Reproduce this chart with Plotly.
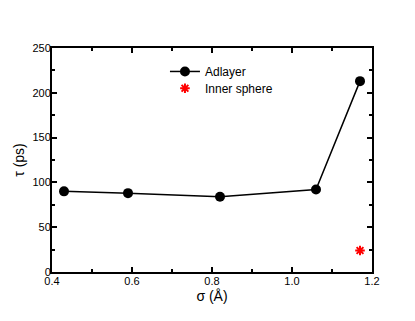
import plotly.graph_objects as go

sigma = [0.43, 0.59, 0.82, 1.06, 1.17]
tau_adlayer = [90, 88, 84, 92, 213]
sigma_inner = [1.17]
tau_inner = [24]

fig = go.Figure()
fig.add_trace(go.Scatter(x=sigma, y=tau_adlayer, mode="lines+markers", name="Adlayer",
                         line=dict(color="black", width=1.5),
                         marker=dict(color="black", size=10, symbol="circle"),
                         legend="legend", showlegend=True))
fig.add_trace(go.Scatter(x=sigma_inner, y=tau_inner, mode="markers", name="Inner sphere",
                         marker=dict(color="red", size=8, symbol="asterisk-open",
                                     line=dict(color="red", width=2)),
                         legend="legend2", showlegend=True))

axis_common = dict(showline=True, linecolor="black", linewidth=2, mirror="ticks",
                   ticks="inside", ticklen=5, tickwidth=1.5, tickcolor="black",
                   showgrid=False, zeroline=False, automargin=False,
                   tickfont=dict(family="Liberation Sans, Arial", size=11, color="black"))

fig.update_xaxes(range=[0.4, 1.2], dtick=0.2, tickformat=".1f", ticklabelstandoff=-2,
                 minor=dict(dtick=0.1, ticks="inside", ticklen=3, tickcolor="black", tickwidth=1.5),
                 title=dict(text="σ (Å)", font=dict(family="Liberation Sans, Arial", size=14, color="black"), standoff=5),
                 **axis_common)
fig.update_yaxes(range=[0, 250], dtick=50, ticklabelstandoff=-3,
                 minor=dict(dtick=25, ticks="inside", ticklen=3, tickcolor="black", tickwidth=1.5),
                 title=dict(text="τ (ps)", font=dict(family="Liberation Sans, Arial", size=14, color="black"), standoff=5),
                 **axis_common)

leg_common = dict(xanchor="left", yanchor="top", bgcolor="rgba(0,0,0,0)", borderwidth=0,
                  font=dict(size=12, color="black"), itemwidth=30, visible=True)

fig.update_layout(width=415, height=321, showlegend=True,
                  margin=dict(l=44, r=51, t=40, b=57),
                  plot_bgcolor="white", paper_bgcolor="white",
                  font=dict(family="Liberation Sans, Arial", color="black"),
                  legend=dict(x=0.353, y=0.96, **leg_common),
                  legend2=dict(x=0.353, y=0.885, **leg_common))

fig.write_html("out.html")
